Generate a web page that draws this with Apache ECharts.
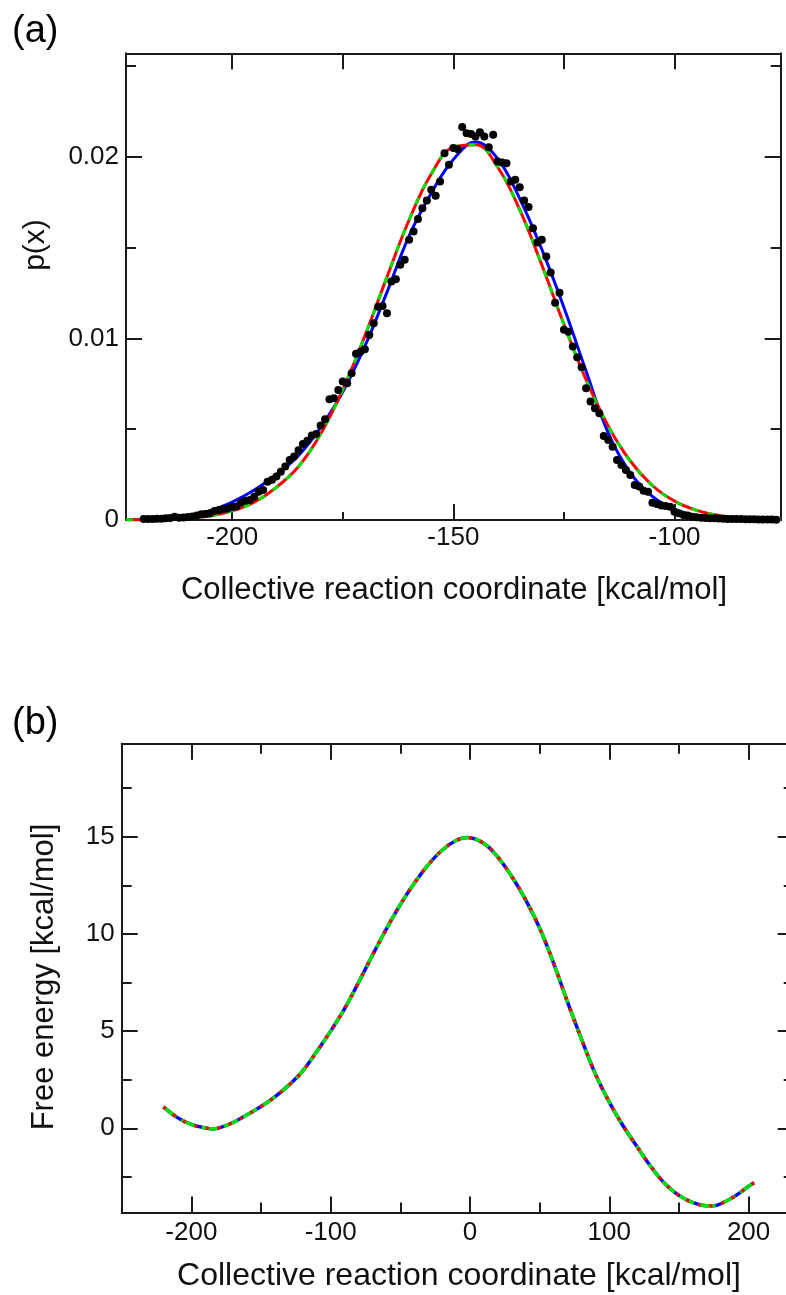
<!DOCTYPE html>
<html><head><meta charset="utf-8">
<script src="https://cdn.jsdelivr.net/npm/echarts@6/dist/echarts.min.js"></script>
<style>html,body{margin:0;padding:0;background:#fff}#c{width:786px;height:1295px}</style>
</head><body><div id="c"></div>
<script>
// ---------- Panel (a): histogram points ----------
const dotX = [-220,-219,-218,-217,-216,-215,-214,-213,-212,-211,-210,-209,-208,-207,-206,-205,-204,-203,-202,-201,
-200,-199,-198,-197,-196,-195,-194,-193,-192,-191,-190,-189,-188,-187,-186,-185,-184,-183,-182,-181,
-180,-179,-178,-177,-176,-175,-174,-173,-172,-171,-170,-169,-168,-167,-166,-165,-164,-163,-162,-161,
-160,-159,-158,-157,-156,-155,-154,-153,-152,-151,-150,-149,-148,-147,-146,-145,-144,-143,-142,-141,
-140,-139,-138,-137,-136,-135,-134,-133,-132,-131,-130,-129,-128,-127,-126,-125,-124,-123,-122,-121,
-120,-119,-118,-117,-116,-115,-114,-113,-112,-111,-110,-109,-108,-107,-106,-105,-104,-103,-102,-101,
-100,-99,-98,-97,-96,-95,-94,-93,-92,-91,-90,-89,-88,-87,-86,-85,-84,-83,-82,-81,-80,-79,-78,-77];
const dotY = [0.00005,0.00006,0.00006,0.00007,0.00007,0.00009,0.00011,0.00018,0.00013,0.00014,0.00016,0.00019,0.00025,0.00031,0.00033,0.00037,0.00050,0.00055,0.00060,0.00064,
0.00072,0.00075,0.00096,0.00106,0.00110,0.00128,0.00156,0.00165,0.00211,0.00222,0.00240,0.00266,0.00294,0.00331,0.00349,0.00384,0.00419,0.00437,0.00466,0.00474,
0.00520,0.00555,0.00665,0.00670,0.00716,0.00762,0.00753,0.00808,0.00915,0.00927,0.00940,0.01019,0.01084,0.01175,0.01179,0.01139,0.01313,0.01326,0.01405,0.01433,
0.01543,0.01589,0.01657,0.01717,0.01759,0.01818,0.01785,0.01864,0.02020,0.01956,0.02048,0.02042,0.02164,0.02130,0.02125,0.02112,0.02135,0.02112,0.02053,0.02121,
0.01974,0.01968,0.01965,0.01864,0.01873,0.01833,0.01759,0.01723,0.01607,0.01528,0.01543,0.01451,0.01363,0.01197,0.01252,0.01047,0.01037,0.00955,0.00896,0.00841,
0.00726,0.00652,0.00615,0.00588,0.00463,0.00441,0.00404,0.00331,0.00303,0.00275,0.00248,0.00193,0.00184,0.00161,0.00156,0.00095,0.00088,0.00080,0.00077,0.00073,
0.00046,0.00037,0.00028,0.00025,0.00018,0.00015,0.00013,0.00011,0.00010,0.00009,0.00008,0.00007,0.00006,0.00006,0.00005,0.00005,0.00004,0.00004,0.00004,0.00003,0.00003,0.00003,0.00003,0.00002];

// ---------- Panel (a): fitted curves ----------
const fitX = [-224,-220,-215,-210,-205,-200,-195,-190,-185,-180,-175,-170,-165,-160,-155,-150,-145,-140,-135,-130,-125,-120,-115,-110,-105,-100,-95,-90,-85,-80,-76];
const blueFit = [0.00001,0.00003,0.00008,0.00022,0.00050,0.00098,0.00165,0.00250,0.00355,0.00510,0.00705,0.00957,0.01255,0.01565,0.01800,0.01985,0.02081,0.01990,0.01770,0.01490,0.01170,0.00820,0.00480,0.00260,0.00130,0.00058,0.00024,0.00008,0.00002,0.00000,0.00000];
const redFit = [0.00001,0.00002,0.00004,0.00010,0.00022,0.00050,0.00098,0.00180,0.00295,0.00474,0.00718,0.01014,0.01339,0.01652,0.01905,0.02053,0.02067,0.01944,0.01709,0.01404,0.01078,0.00773,0.00518,0.00325,0.00190,0.00104,0.00053,0.00025,0.00011,0.00005,0.00002];

// ---------- Panel (b): free energy profile ----------
const feX = [-220,-210,-200,-190,-185,-180,-170,-160,-150,-140,-130,-120,-110,-100,-90,-80,-70,-60,-50,-40,-30,-20,-10,-2,10,20,30,40,50,60,70,80,90,100,110,120,130,140,150,160,170,175,180,190,200,204];
const feY = [1.10,0.55,0.20,0.02,-0.03,0.02,0.30,0.70,1.12,1.62,2.22,2.95,3.95,5.00,6.15,7.50,8.90,10.25,11.50,12.60,13.55,14.30,14.80,14.95,14.65,13.95,12.95,11.75,10.30,8.50,6.50,4.60,2.80,1.35,0.12,-0.95,-1.98,-2.85,-3.45,-3.82,-3.98,-3.98,-3.88,-3.50,-2.98,-2.80];

// ---------- tick values / labels ----------
const aXLabels = [-200,-150,-100];
const aXBottomLong = [-150,-100];
const aXBottomShort = [-200,-175,-125];
const aXTop = [-200,-175,-150,-125,-100];
const aYLabels = [0,0.01,0.02];
const aYMajor = [0.01,0.02];
const aYMinor = [0.005,0.015,0.025];
const bXLabels = [-200,-100,0,100,200];
const bXMinor = [-150,-50,50,150];
const bYLabels = [0,5,10,15];
const bYMinor = [-2.5,2.5,7.5,12.5,17.5];

const FONT = 'Liberation Sans, Arial, Helvetica, sans-serif';
const AX = '#1a1a1a';
const zip = (xs, ys) => xs.map((x, i) => [x, ys[i]]);

function axis(grid, pos, min, max, ticks, len, labels, showLine, fs, margin) {
  return {
    type: 'value', gridIndex: grid, position: pos, min: min, max: max,
    axisLine: { show: showLine, onZero: false, lineStyle: { color: AX, width: 2 } },
    axisTick: { show: true, inside: true, length: len, customValues: ticks, lineStyle: { color: AX, width: 2 } },
    axisLabel: labels ? { show: true, customValues: labels, fontFamily: FONT, fontSize: fs, color: '#111', margin: margin } : { show: false },
    splitLine: { show: false }, minorTick: { show: false }
  };
}

const chart = echarts.init(document.getElementById('c'), null, { renderer: 'canvas' });
const option = {
  animation: false,
  backgroundColor: '#ffffff',
  grid: [
    { left: 126, top: 53.3, width: 654.7, height: 466.7, outerBoundsMode: 'none', containLabel: false },
    { left: 121.7, top: 743.7, width: 672, height: 468.8, outerBoundsMode: 'none', containLabel: false }
  ],
  xAxis: [
    axis(0, 'bottom', -224, -76, aXBottomLong, 16, aXLabels, true, 26, 5),
    axis(0, 'bottom', -224, -76, aXBottomShort, 8, null, false),
    axis(0, 'top', -224, -76, aXTop, 16, null, true),
    axis(1, 'bottom', -250, 232.4, bXLabels, 16, bXLabels, true, 26, 7),
    axis(1, 'bottom', -250, 232.4, bXMinor, 10, null, false),
    axis(1, 'top', -250, 232.4, bXLabels, 16, null, true),
    axis(1, 'top', -250, 232.4, bXMinor, 10, null, false)
  ],
  yAxis: [
    axis(0, 'left', 0, 0.0257, aYMajor, 16, aYLabels, true, 26, 7),
    axis(0, 'left', 0, 0.0257, aYMinor, 10, null, false),
    axis(0, 'right', 0, 0.0257, aYMajor, 16, null, true),
    axis(0, 'right', 0, 0.0257, aYMinor, 10, null, false),
    axis(1, 'left', -4.33, 19.78, bYLabels, 16, bYLabels, true, 26, 7),
    axis(1, 'left', -4.33, 19.78, bYMinor, 10, null, false),
    axis(1, 'right', -4.33, 19.78, bYLabels, 16, null, true),
    axis(1, 'right', -4.33, 19.78, bYMinor, 10, null, false)
  ],
  series: [
    { type: 'line', xAxisIndex: 0, yAxisIndex: 0, data: zip(fitX, blueFit), smooth: 0.4, showSymbol: false,
      lineStyle: { color: '#0000ff', width: 3 }, z: 2 },
    { type: 'line', xAxisIndex: 0, yAxisIndex: 0, data: zip(fitX, redFit), smooth: 0.4, showSymbol: false,
      lineStyle: { color: '#ff0000', width: 3 }, z: 3 },
    { type: 'line', xAxisIndex: 0, yAxisIndex: 0, data: zip(fitX, redFit), smooth: 0.4, showSymbol: false,
      lineStyle: { color: '#00e000', width: 3, type: [7, 10] }, z: 4 },
    { type: 'scatter', xAxisIndex: 0, yAxisIndex: 0, data: zip(dotX, dotY), symbolSize: 8,
      itemStyle: { color: '#000000', opacity: 1 }, z: 5 },
    { type: 'line', xAxisIndex: 3, yAxisIndex: 4, data: zip(feX, feY), smooth: 0.4, showSymbol: false,
      lineStyle: { color: '#0000ff', width: 3.5 }, z: 2 },
    { type: 'line', xAxisIndex: 3, yAxisIndex: 4, data: zip(feX, feY), smooth: 0.4, showSymbol: false,
      lineStyle: { color: '#00e000', width: 3.5, type: [16, 6] }, z: 3 },
    { type: 'line', xAxisIndex: 3, yAxisIndex: 4, data: zip(feX, feY), smooth: 0.4, showSymbol: false,
      lineStyle: { color: '#ff0000', width: 3.5, type: [3, 9] }, z: 4 }
  ],
  graphic: [
    { type: 'text', x: 12, y: 32, style: { text: '(a)', font: '38px ' + FONT, fill: '#000', align: 'left', verticalAlign: 'middle' } },
    { type: 'text', x: 12, y: 724, style: { text: '(b)', font: '38px ' + FONT, fill: '#000', align: 'left', verticalAlign: 'middle' } },
    { type: 'text', x: 454, y: 590, style: { text: 'Collective reaction coordinate [kcal/mol]', font: '31px ' + FONT, fill: '#111', align: 'center', verticalAlign: 'middle' } },
    { type: 'text', x: 459, y: 1276, style: { text: 'Collective reaction coordinate [kcal/mol]', font: '32px ' + FONT, fill: '#111', align: 'center', verticalAlign: 'middle' } },
    { type: 'text', x: 36, y: 245, rotation: Math.PI / 2, style: { text: 'p(x)', font: '30px ' + FONT, fill: '#111', align: 'center', verticalAlign: 'middle' } },
    { type: 'text', x: 44, y: 977, rotation: Math.PI / 2, style: { text: 'Free energy [kcal/mol]', font: '31px ' + FONT, fill: '#111', align: 'center', verticalAlign: 'middle' } }
  ]
};
chart.setOption(option);
</script>
</body></html>
